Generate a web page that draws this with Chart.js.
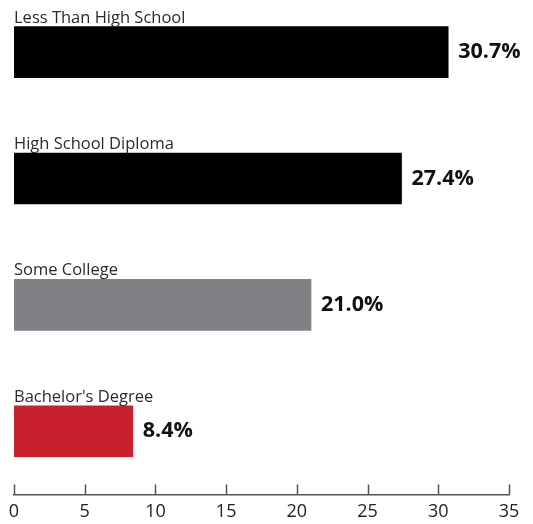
<!DOCTYPE html>
<html>
<head>
<meta charset="utf-8">
<script src="https://cdn.jsdelivr.net/npm/chart.js@4.4.1/dist/chart.umd.min.js"></script>
<style>
  html, body { margin: 0; padding: 0; background: #fff; overflow: hidden; }
  #wrap { position: absolute; left: 0; top: -11px; width: 533px; height: 543px; }
</style>
</head>
<body>
<div id="wrap"><canvas id="chart"></canvas></div>
<script>
const categories = ["Less Than High School", "High School Diploma", "Some College", "Bachelor's Degree"];
const shares = [30.7, 27.4, 21.0, 8.4];
const barColors = ["#000000", "#000000", "#818185", "#c8202e"];
const xTicks = [0, 5, 10, 15, 20, 25, 30, 35];

const FONT = "'Open Sans', sans-serif";

// category names above bars, percentages to the right
const barLabels = {
    id: "barLabels",
    afterDatasetsDraw(chart) {
        const ctx = chart.ctx;
        const meta = chart.getDatasetMeta(0);
        ctx.save();
        meta.data.forEach((bar, i) => {
            const top = bar.y - bar.height / 2;
            ctx.font = "16.5px " + FONT;
            ctx.fillStyle = "#2b2b2b";
            ctx.textAlign = "left";
            ctx.textBaseline = "alphabetic";
            ctx.fillText(categories[i], chart.chartArea.left, top - 4);

            ctx.font = "bold 21.5px " + FONT;
            ctx.fillStyle = "#111";
            ctx.textBaseline = "middle";
            ctx.fillText(shares[i].toFixed(1) + "%", bar.x + 10, bar.y);
        });
        ctx.restore();
    },
};

// tick marks pointing up from the axis line
const upTicks = {
    id: "upTicks",
    afterDraw(chart) {
        const ctx = chart.ctx;
        const xs = chart.scales.x;
        const y = chart.chartArea.bottom;
        ctx.save();
        ctx.strokeStyle = "#555";
        ctx.lineWidth = 1.5;
        ctx.beginPath();
        xTicks.forEach((v) => {
            const px = Math.round(xs.getPixelForValue(v)) + 0.5;
            ctx.moveTo(px, y);
            ctx.lineTo(px, y - 10);
        });
        ctx.stroke();
        ctx.restore();
    },
};

new Chart(document.getElementById("chart"), {
    type: "bar",
    data: {
        labels: categories,
        datasets: [{
            data: shares,
            backgroundColor: barColors,
            barThickness: 51,
        }],
    },
    options: {
        indexAxis: "y",
        responsive: true,
        maintainAspectRatio: false,
        animation: false,
        layout: { padding: { left: 14, right: 24, top: 0, bottom: 2 } },
        plugins: { legend: { display: false }, tooltip: { enabled: false } },
        scales: {
            y: { display: false },
            x: {
                min: 0,
                max: 35,
                afterBuildTicks: (scale) => {
                    scale.ticks = xTicks.map((v) => ({ value: v }));
                },
                grid: { display: false, drawTicks: false },
                border: { display: true, color: "#555", width: 1.5 },
                ticks: {
                    padding: 7,
                    color: "#222",
                    font: { family: FONT, size: 18 },
                    maxRotation: 0,
                    autoSkip: false,
                },
            },
        },
    },
    plugins: [barLabels, upTicks],
});
</script>
</body>
</html>
